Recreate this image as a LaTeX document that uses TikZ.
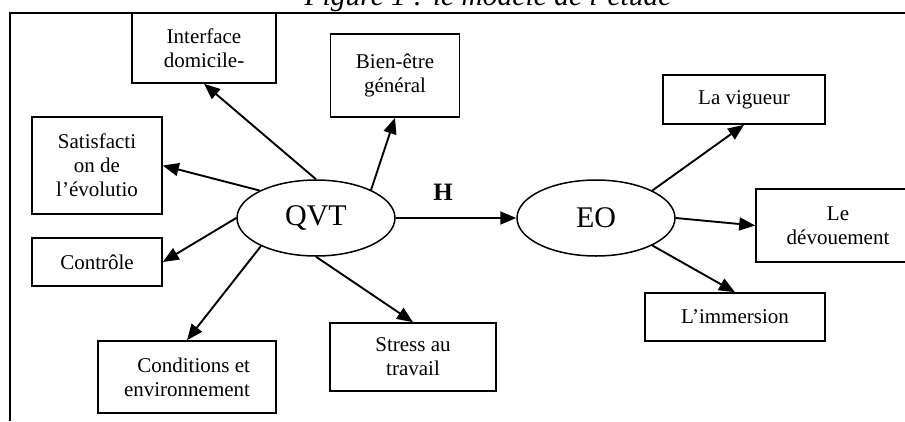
\documentclass[tikz,border=0pt]{standalone}
\usepackage{fontspec}
\setmainfont{Liberation Serif}
\usepackage{tikz}
\usetikzlibrary{shapes.geometric,arrows.meta}

\begin{document}
\begin{tikzpicture}[x=1pt,y=-1pt]
\tikzstyle{dimension}=[draw,rectangle,line width=1.6pt,inner sep=0pt,align=center,font=\fontsize{21}{24}\selectfont]
\tikzstyle{concept}=[draw,ellipse,line width=1.5pt,inner sep=0pt,minimum width=158,minimum height=76,font=\fontsize{30}{32}\selectfont]
\tikzstyle{fleche}=[line width=1.9pt,-{Triangle[length=16pt,width=13pt]}]
%\tikzstyle{fleche}=[line width=1.6pt,->]

\useasboundingbox (0,0) rectangle (905,421);
\clip (0,0) rectangle (905,421);

\node[font=\itshape\fontsize{29.5}{31}\selectfont,anchor=base] (titre) at (488,5) {Figure 1 : le modèle de l’étude};
\draw[line width=2.2pt] (10,421) -- (10,13) -- (905,13);

\node[concept] (qvt) at (316,218) {QVT};
\node[concept] (eo) at (596,218) {EO};

\node[dimension,minimum width=144,minimum height=70] (interface) at (204,48) {Interface\\domicile-};
\node[dimension,minimum width=129,minimum height=83] (bien) at (395,75.5) {Bien-être\\général};
\node[dimension,minimum width=130,minimum height=97] (satis) at (97,165.5) {Satisfacti\\on de\\l’évolutio};
\node[dimension,minimum width=130,minimum height=48] (controle) at (97,262) {Contrôle};
\node[dimension,minimum width=178,minimum height=72,align=right] (cond) at (187,377) {Conditions et\\environnement};
\node[dimension,minimum width=166,minimum height=68] (stress) at (413,357) {Stress au\\travail};

\node[dimension,minimum width=162,minimum height=49] (vigueur) at (744,99.5) {La vigueur};
\node[dimension,minimum width=164,minimum height=73] (devou) at (838,225.5) {Le\\dévouement};
\node[dimension,minimum width=180,minimum height=48] (immer) at (735,317) {L’immersion};

\draw[fleche] (qvt.north) -- (interface.south);
\draw[fleche] (qvt.27) -- (bien.south);
\draw[fleche] (qvt.154) -- (satis.east);
\draw[fleche] (qvt.west) -- (controle.east);
\draw[fleche] (qvt.207) -- (cond.north);
\draw[fleche] (qvt.south) -- (stress.north);

\draw[fleche] (qvt.east) -- (eo.west);
\node[font=\bfseries\fontsize{25}{27}\selectfont] (hyp) at (443,192) {H};

\draw[fleche] (eo.26) -- (vigueur.south);
\draw[fleche] (eo.east) -- (devou.west);
\draw[fleche] (eo.-26) -- (immer.north);

\end{tikzpicture}
\end{document}
